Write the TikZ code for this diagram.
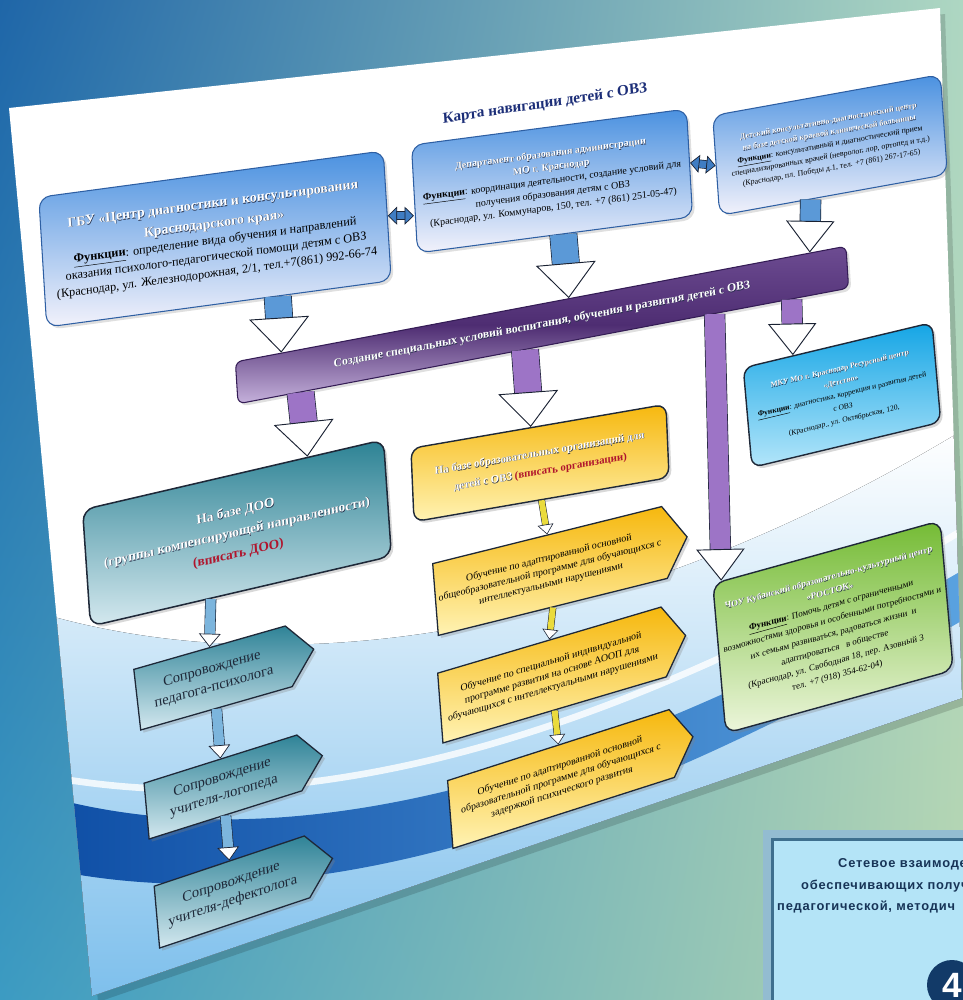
\documentclass[tikz,border=0pt]{standalone}
\usepackage{fontspec}
\setmainfont{Liberation Serif}
\newfontfamily\insetfont[LetterSpace=6]{Liberation Sans}
\usetikzlibrary{positioning}
\usetikzlibrary{calc}
\usetikzlibrary{arrows.meta}
\usetikzlibrary{shapes.symbols}
\usetikzlibrary{shadows}
\usetikzlibrary{shadings}

\definecolor{bgtl}{HTML}{1F66A8}
\definecolor{bgtr}{HTML}{AED7C2}
\definecolor{bgbl}{HTML}{3C9BC2}
\definecolor{bgbr}{HTML}{B5D5B1}
\definecolor{boxblue}{HTML}{4A91E0}
\definecolor{boxlow}{HTML}{F3F2FB}
\definecolor{boxline}{HTML}{2E5FA3}
\definecolor{bartop}{HTML}{6D4C92}
\definecolor{barmid}{HTML}{4E2D72}
\definecolor{barlow}{HTML}{C6B2DC}
\definecolor{barline}{HTML}{341C55}
\definecolor{tealtop}{HTML}{2C8294}
\definecolor{teallow}{HTML}{D5E9EF}
\definecolor{yeltop}{HTML}{F6B80E}
\definecolor{yellow low}{HTML}{FFF3B4}
\definecolor{cyantop}{HTML}{14A5E5}
\definecolor{cyanlow}{HTML}{B4E6FA}
\definecolor{greentop}{HTML}{74BB34}
\definecolor{greenlow}{HTML}{EDF6DC}
\definecolor{htealtop}{HTML}{2F8397}
\definecolor{htealow}{HTML}{D3E8EF}
\definecolor{darkline}{HTML}{1E2838}
\definecolor{arrowline}{HTML}{1A2233}
\definecolor{arrowblue}{HTML}{5B99D7}
\definecolor{arrowpurple}{HTML}{9D74C6}
\definecolor{arrowlblue}{HTML}{7CB5DD}
\definecolor{arrowyellow}{HTML}{EADB3C}
\definecolor{arrowdbl}{HTML}{3F7DC3}
\definecolor{redtext}{HTML}{B0152D}
\definecolor{titlenavy}{HTML}{1C2E78}
\definecolor{shadowc}{HTML}{26304A}
\definecolor{hazeblue}{HTML}{7DBFEC}
\definecolor{swooshdark}{HTML}{0F4FA6}
\definecolor{swooshmid}{HTML}{5AA2E0}
\definecolor{insetframe}{HTML}{93BCD1}
\definecolor{insetdark}{HTML}{3E6F8E}
\definecolor{insetfill}{HTML}{B4E4F7}
\definecolor{insetnavy}{HTML}{173457}
\definecolor{numnavy}{HTML}{123A68}

% white title text with a small dark shadow
\newcommand{\wsh}[1]{\leavevmode{\bfseries\rlap{\kern0.4pt\raisebox{-0.4pt}{\color{shadowc}#1}}\color{white}#1}}
\newcommand{\tsh}[2]{{\fontsize{#1}{#1}\selectfont\wsh{#2}}}
\newcommand{\funclabel}{\underline{\textbf{Функции}}:}

\begin{document}
\begin{tikzpicture}[x=0.3mm, y=-0.3mm,
  tilt/.style 2 args={rotate=#1, yslant=#2},
  orgbox/.style={draw=boxline, line width=0.9pt, rounded corners=3.5mm, top color=boxblue, bottom color=boxlow, align=center, inner sep=1mm, drop shadow={opacity=0.25}},
  barbox/.style={draw=barline, line width=0.9pt, rounded corners=2mm, top color=bartop, bottom color=barlow, middle color=barmid, align=center, inner sep=1mm, drop shadow={opacity=0.25}},
  doobox/.style={draw=darkline, line width=1.3pt, rounded corners=3.5mm, top color=tealtop, bottom color=teallow, align=center, drop shadow={opacity=0.3}},
  orgyellow/.style={draw=darkline, line width=1.2pt, rounded corners=3mm, top color=yeltop, bottom color=yellow low, align=center, drop shadow={opacity=0.3}},
  mkubox/.style={draw=darkline, line width=1.2pt, rounded corners=3mm, top color=cyantop, bottom color=cyanlow, align=center, drop shadow={opacity=0.3}},
  rostokbox/.style={draw=darkline, line width=1.2pt, rounded corners=3.5mm, top color=greentop, bottom color=greenlow, align=center, drop shadow={opacity=0.3}},
  yelsig/.style={draw=darkline, line width=1.1pt, signal, signal to=east, signal pointer angle=115, top color=yeltop, bottom color=yellow low, align=center, inner sep=1mm, font=\fontsize{8.5}{11}\selectfont, drop shadow={opacity=0.3}},
  tealsig/.style={draw=darkline, line width=1.1pt, signal, signal to=east, signal pointer angle=100, top color=htealtop, bottom color=htealow, align=center, inner sep=1mm, text=darkline, font=\fontsize{12.5}{16}\selectfont, drop shadow={opacity=0.3}},
  bigarrow/.style={draw=#1, line width=8mm, preaction={-, draw=arrowline, line width=8.4mm, shorten >=6mm}, -{Triangle[length=10.5mm, width=18mm, color=arrowline, fill=white, line width=0.8pt]}},
  midarrow/.style={draw=#1, line width=6mm, preaction={-, draw=arrowline, line width=6.4mm, shorten >=5mm}, -{Triangle[length=9.5mm, width=14.5mm, color=arrowline, fill=white, line width=0.8pt]}},
  smallarrow/.style={draw=arrowlblue, line width=3mm, preaction={-, draw=arrowline, line width=3.35mm, shorten >=2.5mm}, -{Triangle[length=4mm, width=6.5mm, color=arrowline, fill=white, line width=0.6pt]}},
  yelarrow/.style={draw=arrowyellow, line width=1.8mm, preaction={-, draw=arrowline, line width=2.1mm, shorten >=2mm}, -{Triangle[length=3mm, width=4.8mm, color=arrowline, fill=white, line width=0.5pt]}},
  dblarrow/.style={draw=arrowdbl, line width=2.2mm, preaction={-, draw=arrowline, line width=2.6mm, shorten >=1.6mm, shorten <=1.6mm}, {Triangle[length=2.8mm, width=5.4mm, color=arrowline, fill=arrowdbl, line width=0.6pt]}-{Triangle[length=2.8mm, width=5.4mm, color=arrowline, fill=arrowdbl, line width=0.6pt]}},
  insettext/.style={font=\insetfont\bfseries\fontsize{11}{13}\selectfont, text=insetnavy, inner sep=0pt, anchor=west}
]
\useasboundingbox (0,0) rectangle (963,1000);
% backdrop
\shade[upper left=bgtl, upper right=bgtr, lower left=bgbl, lower right=bgbr] (0,0) rectangle (963,1000);

% the sheet and its swoosh
\fill[black, opacity=0.15] (14,114) -- (945,14) -- (968,704) -- (98,1002) -- cycle;
\fill[white] (9,108) -- (940,8) -- (962,698) -- (92,996) -- cycle;
\begin{scope}
  \clip (9,108) -- (940,8) -- (962,698) -- (92,996) -- cycle;
  \fill[top color=white, bottom color=hazeblue] (0,600) .. controls (250,690) and (600,650) .. (963,430) -- (963,1000) -- (0,1000) -- cycle;
  \shade[left color=swooshdark, right color=swooshmid] (60,800) .. controls (300,860) and (600,780) .. (963,570) -- (963,620) .. controls (620,820) and (330,915) .. (80,875) -- cycle;
  \draw[white, line width=2mm, opacity=0.8] (40,775) .. controls (300,825) and (600,745) .. (963,530);
\end{scope}

% inset card
\fill[insetframe] (763,830) rectangle (990,1010);
\fill[insetdark] (771,838) rectangle (990,1010);
\fill[insetfill] (774,841) rectangle (990,1010);
\node[insettext] (net1) at (838,864) {Сетевое взаимоде};
\node[insettext] (net2) at (801,886) {обеспечивающих получ};
\node[insettext] (net3) at (777,907) {педагогической, методич};
\node[circle, fill=numnavy, minimum size=15mm, text=white, font=\insetfont\bfseries\fontsize{30}{30}\selectfont] (num) at (952,985) {4};

% navigation map
\node[tilt={3.5}{0.09}, text=titlenavy, font=\fontsize{13}{15}\selectfont\bfseries] (title) at (545,104) {Карта навигации детей с ОВЗ};

\node[orgbox, tilt={3.5}{0.073}, minimum width=104mm, minimum height=39mm, font=\fontsize{10.5}{14}\selectfont] (gbu) at (215,239)
  {\tsh{11.8}{ГБУ «Центр диагностики и консультирования}\\[3pt]
   \tsh{11.8}{Краснодарского края»}\\
   \funclabel{} определение вида обучения и направлений\\
   оказания психолого-педагогической помощи детям с ОВЗ\\
   (Краснодар, ул. Железнодорожная, 2/1, тел.+7(861) 992-66-74};
\node[orgbox, tilt={3.2}{0.075}, minimum width=83mm, minimum height=32.4mm, font=\fontsize{8.5}{11.5}\selectfont] (dep) at (552,181)
  {\wsh{Департамент образования администрации}\\
   \wsh{МО г. Краснодар}\\
   \funclabel{} координация деятельности, создание условий для\\
   получения образования детям с ОВЗ\\
   (Краснодар, ул. Коммунаров, 150, тел. +7 (861) 251-05-47)};
\node[orgbox, tilt={4}{0.109}, minimum width=69mm, minimum height=30mm, font=\fontsize{6.8}{10}\selectfont] (kdc) at (830,145)
  {\wsh{Детский консультативно-диагностический центр}\\
   \wsh{на базе детской краевой клинической больницы}\\
   \funclabel{} консультативный и диагностический прием\\
   специализированных врачей (невролог, лор, ортопед и т.д.)\\
   (Краснодар, пл. Победы д.1, тел. +7 (861) 267-17-65)};

\node[barbox, tilt={3.6}{0.125}, minimum width=185mm, minimum height=12.6mm, font=\fontsize{10.1}{12}\selectfont] (bar) at (542,325)
  {\wsh{Создание специальных условий воспитания, обучения и развития детей с ОВЗ}};

\node[mkubox, tilt={5}{0.149}, minimum width=57.6mm, minimum height=30mm, font=\fontsize{6.5}{11}\selectfont] (mku) at (842,395)
  {\wsh{МКУ МО г. Краснодар Ресурсный центр}\\
   \wsh{«Детство»}\\
   \funclabel{} диагностика, коррекция и развития детей\\
   с ОВЗ\\
   (Краснодар., ул. Октябрьская, 120,};

\node[doobox, tilt={3.9}{0.162}, minimum width=91.5mm, minimum height=35mm, font=\fontsize{11.5}{18}\selectfont] (doo) at (237,533)
  {\wsh{На базе ДОО}\\
   \wsh{(группы компенсирующей направленности)}\\
   \textbf{\color{redtext}(вписать ДОО)}};

\node[orgyellow, tilt={2.4}{0.13}, minimum width=77mm, minimum height=22mm, font=\fontsize{9.3}{16}\selectfont] (eduorg) at (540,463)
  {\wsh{На базе образовательных организаций для}\\
   \wsh{детей с ОВЗ} \textbf{\color{redtext}(вписать организации)}};

\node[yelsig, tilt={4.5}{0.167}, minimum width=76mm, minimum height=21.6mm] (prog1) at (550,571)
  {Обучение по адаптированной основной\\
   общеобразовательной программе для обучающихся с\\
   интеллектуальными нарушениями};
\node[yelsig, tilt={4.3}{0.216}, minimum width=75mm, minimum height=21mm] (prog2) at (552,675)
  {Обучение по специальной индивидуальной\\
   программе развития на основе АООП для\\
   обучающихся с интеллектуальными нарушениями};
\node[yelsig, tilt={4.5}{0.236}, minimum width=74.4mm, minimum height=20.4mm] (prog3) at (561,779)
  {Обучение по адаптированной основной\\
   образовательной программе для обучающихся с\\
   задержкой психического развития};

\node[rostokbox, tilt={5}{0.185}, minimum width=69.6mm, minimum height=45mm, font=\fontsize{7.7}{12}\selectfont] (rostok) at (833,627)
  {\wsh{ЧОУ Кубанский образовательно-культурный центр}\\
   \wsh{«РОСТОК»}\\
   \funclabel{} Помочь детям с ограниченными\\
   возможностями здоровья и особенными потребностями и\\
   их семьям развиваться, радоваться жизни~ и\\
   адаптироваться~~ в обществе\\
   (Краснодар, ул. Свободная 18, пер. Азовный 3\\
   тел. +7 (918) 354-62-04)};

\node[tealsig, tilt={6.5}{0.167}, minimum width=54.3mm, minimum height=18.3mm] (psy) at (213,678) {Сопровождение\\ педагога-психолога};
\node[tealsig, tilt={5.2}{0.218}, minimum width=54mm, minimum height=16.8mm] (logo) at (223,787) {Сопровождение\\ учителя-логопеда};
\node[tealsig, tilt={5}{0.24}, minimum width=54mm, minimum height=18.6mm] (defect) at (232,892) {Сопровождение\\ учителя-дефектолога};

% connectors
\draw[dblarrow] (gbu.east) -- (gbu.east -| dep.west);
\draw[dblarrow] (dep.east) -- (kdc.west);
\draw[bigarrow=arrowblue] ($(gbu.south west)!0.67!(gbu.south east)$) -- ($(bar.north west)!0.076!(bar.north east)$);
\draw[bigarrow=arrowblue] ($(dep.south west)!0.53!(dep.south east)$) -- ($(bar.north west)!0.546!(bar.north east)$);
\draw[midarrow=arrowblue] ($(kdc.south west)!0.40!(kdc.south east)$) -- ($(bar.north west)!0.94!(bar.north east)$);
\draw[bigarrow=arrowpurple] ($(bar.south west)!0.103!(bar.south east)$) -- ($(doo.north west)!0.746!(doo.north east)$);
\draw[bigarrow=arrowpurple] ($(bar.south west)!0.47!(bar.south east)$) -- ($(eduorg.north west)!0.47!(eduorg.north east)$);
\draw[midarrow=arrowpurple] ($(bar.south west)!0.906!(bar.south east)$) -- ($(mku.north west)!0.265!(mku.north east)$);
\draw[midarrow=arrowpurple] ($(bar.south west)!0.78!(bar.south east)$) -- ($(rostok.north west)!0.04!(rostok.north east)$);
\draw[yelarrow] (eduorg.south) -- (prog1.north);
\draw[yelarrow] (prog1.south) -- (prog2.north);
\draw[yelarrow] (prog2.south) -- (prog3.north);
\draw[smallarrow] ($(doo.south west)!0.40!(doo.south east)$) -- (psy.north);
\draw[smallarrow] (psy.south) -- (logo.north);
\draw[smallarrow] (logo.south) -- (defect.north);
\end{tikzpicture}
\end{document}
